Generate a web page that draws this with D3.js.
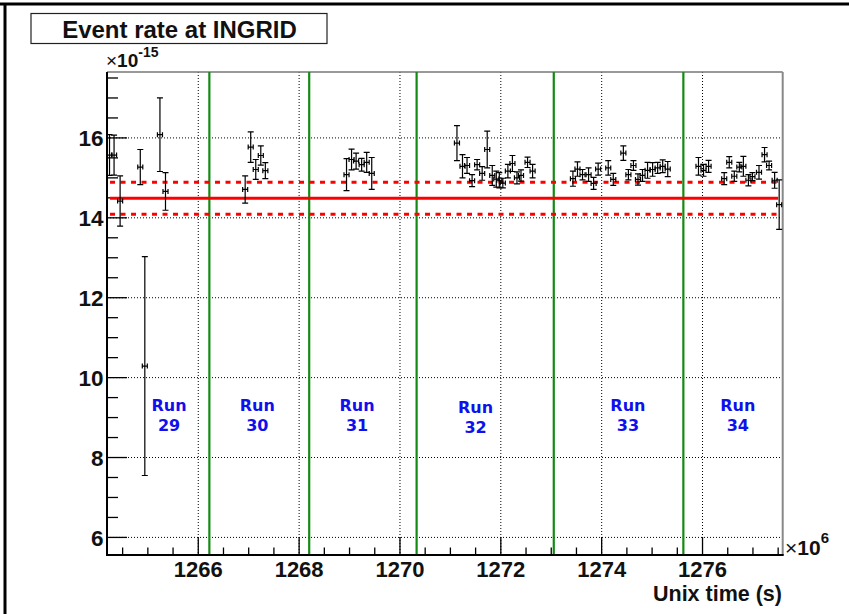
<!DOCTYPE html>
<html>
<head>
<meta charset="utf-8">
<script src="https://cdn.jsdelivr.net/npm/d3@7"></script>
<style>
  html, body { margin: 0; padding: 0; background: #fff; }
  svg { display: block; }
</style>
</head>
<body>
<svg id="chart" width="849" height="614"></svg>
<script>
// ---------------- DATA ----------------
// Unix time (x 10^6 s)
const times = [
  1264.24, 1264.33, 1264.45, 1264.85, 1264.94, 1265.24, 1265.35,
  1266.93, 1267.04, 1267.14, 1267.24, 1267.33,
  1268.94, 1269.04, 1269.13, 1269.24, 1269.34, 1269.44,
  1271.13, 1271.24, 1271.33, 1271.43, 1271.53, 1271.63, 1271.73, 1271.83, 1271.91,
  1271.97, 1272.04, 1272.14, 1272.23, 1272.32, 1272.40, 1272.53, 1272.63,
  1273.43, 1273.52, 1273.62, 1273.74, 1273.84, 1273.93, 1274.13, 1274.23, 1274.43,
  1274.53, 1274.63, 1274.72, 1274.81, 1274.91, 1275.01, 1275.11, 1275.21, 1275.31,
  1275.92, 1276.02, 1276.12, 1276.43, 1276.53, 1276.63, 1276.73, 1276.81, 1276.91,
  1276.99, 1277.12, 1277.23, 1277.32, 1277.43, 1277.52
];
// Event rate (x 10^-15)
const rates = [
  15.57, 15.57, 14.42, 15.27, 10.29, 16.08, 14.66,
  14.71, 15.77, 15.21, 15.56, 15.18,
  15.08, 15.46, 15.42, 15.33, 15.39, 15.11,
  15.87, 15.29, 15.31, 14.93, 15.33, 15.11, 15.71, 15.06, 14.97,
  14.94, 14.87, 15.17, 15.36, 15.00, 15.06, 15.39, 15.17,
  14.98, 15.22, 15.08, 15.08, 14.86, 15.22, 15.25, 14.96, 15.62,
  15.08, 15.31, 14.96, 15.06, 15.19, 15.21, 15.25, 15.29, 15.22,
  15.29, 15.19, 15.29, 14.98, 15.39, 15.04, 15.27, 15.29, 14.94,
  15.03, 15.14, 15.58, 15.31, 14.94, 14.33
];
// Rate errors
const rateErrs = [
  0.51, 0.50, 0.63, 0.44, 2.74, 0.92, 0.47,
  0.34, 0.38, 0.25, 0.24, 0.20,
  0.40, 0.26, 0.20, 0.16, 0.25, 0.40,
  0.44, 0.29, 0.20, 0.15, 0.13, 0.17, 0.46, 0.25, 0.20,
  0.19, 0.12, 0.17, 0.20, 0.15, 0.14, 0.13, 0.17,
  0.19, 0.18, 0.13, 0.17, 0.15, 0.15, 0.18, 0.15, 0.18,
  0.13, 0.12, 0.14, 0.15, 0.20, 0.17, 0.14, 0.16, 0.19,
  0.22, 0.15, 0.15, 0.15, 0.14, 0.13, 0.12, 0.25, 0.14,
  0.10, 0.17, 0.18, 0.11, 0.20, 0.62
];
const timeErr = 0.05;

const meanRate = 14.49;
const meanBand = [14.09, 14.89];
const fitRange = [1264.25, 1277.5];

const runBoundaries = [1266.22, 1268.20, 1270.33, 1273.05, 1275.62];
const runNames = ["29", "30", "31", "32", "33", "34"];
const runLabelX = [1265.42, 1267.17, 1269.15, 1271.50, 1274.52, 1276.70];
const runLabelDy = [0, 0, 0, 2, 0, 0];

const xTicks = [1266, 1268, 1270, 1272, 1274, 1276];
const yTicks = [6, 8, 10, 12, 14, 16];

// ---------------- LAYOUT ----------------
const L = 107, R = 782.7, T = 72, B = 555;
const svg = d3.select("#chart");
const x = d3.scaleLinear().domain([1264.19, 1277.59]).range([L, R]);
const y = d3.scaleLinear().domain([5.56, 17.65]).range([B, T]);

svg.append("rect").attr("width", 849).attr("height", 614).attr("fill", "#fff");

// outer canvas border (top, left)
svg.append("line").attr("x1", 0).attr("x2", 849).attr("y1", 4).attr("y2", 4)
  .attr("stroke", "#000").attr("stroke-width", 3);
svg.append("line").attr("x1", 5).attr("x2", 5).attr("y1", 3).attr("y2", 614)
  .attr("stroke", "#000").attr("stroke-width", 3);

const sans = "'Liberation Sans', Arial, Helvetica, sans-serif";

// grid
const grid = svg.append("g").attr("stroke", "#000").attr("stroke-width", 1)
  .attr("stroke-dasharray", "1,2");
xTicks.forEach(t => {
  grid.append("line").attr("x1", x(t)).attr("x2", x(t)).attr("y1", T).attr("y2", B);
});
yTicks.forEach(t => {
  grid.append("line").attr("x1", L).attr("x2", R).attr("y1", y(t)).attr("y2", y(t));
});

// frame top/right (grey)
svg.append("line").attr("x1", L).attr("x2", R).attr("y1", T).attr("y2", T)
  .attr("stroke", "#777").attr("stroke-width", 1.5);
svg.append("line").attr("x1", R).attr("x2", R).attr("y1", T).attr("y2", B)
  .attr("stroke", "#888").attr("stroke-width", 2);

// ticks
const ticks = svg.append("g").attr("stroke", "#000").attr("stroke-width", 1.3);
const yMinor = d3.range(6, 17.6, 0.5);
yMinor.forEach(v => {
  const major = yTicks.includes(v);
  ticks.append("line").attr("x1", L).attr("x2", L + (major ? 20 : 11))
    .attr("y1", y(v)).attr("y2", y(v));
});
const xMinor = d3.range(1264.5, 1277.6, 0.5);
xMinor.forEach(v => {
  const major = xTicks.includes(v);
  ticks.append("line").attr("x1", x(v)).attr("x2", x(v))
    .attr("y1", B).attr("y2", B - (major ? 18 : 7.5));
});

// run boundaries (green)
runBoundaries.forEach(t => {
  svg.append("line").attr("x1", x(t)).attr("x2", x(t)).attr("y1", T).attr("y2", B)
    .attr("stroke", "#138a13").attr("stroke-width", 2.2);
});

// mean line and band (red)
svg.append("line").attr("x1", x(fitRange[0])).attr("x2", x(fitRange[1]))
  .attr("y1", y(meanRate)).attr("y2", y(meanRate))
  .attr("stroke", "#ff0000").attr("stroke-width", 3.2);
meanBand.forEach(v => {
  svg.append("line").attr("x1", x(fitRange[0])).attr("x2", x(fitRange[1]))
    .attr("y1", y(v)).attr("y2", y(v))
    .attr("stroke", "#ff0000").attr("stroke-width", 3)
    .attr("stroke-dasharray", "5,5.5");
});

// data points with error bars
const pts = svg.append("g").attr("stroke", "#000").attr("stroke-width", 1.2).attr("fill", "none");
times.forEach((t, i) => {
  const cx = x(t), cy = y(rates[i]);
  const y0 = y(rates[i] - rateErrs[i]), y1 = y(rates[i] + rateErrs[i]);
  const x0 = x(t - timeErr), x1 = x(t + timeErr);
  const p = d3.path();
  p.moveTo(cx, y0); p.lineTo(cx, y1);
  p.moveTo(cx - 3, y0); p.lineTo(cx + 3, y0);
  p.moveTo(cx - 3, y1); p.lineTo(cx + 3, y1);
  p.moveTo(x0, cy); p.lineTo(x1, cy);
  p.moveTo(x0, cy - 2.5); p.lineTo(x0, cy + 2.5);
  p.moveTo(x1, cy - 2.5); p.lineTo(x1, cy + 2.5);
  pts.append("path").attr("d", p.toString());
});

// axes lines (black)
svg.append("line").attr("x1", L).attr("x2", R + 1).attr("y1", B).attr("y2", B)
  .attr("stroke", "#000").attr("stroke-width", 2);
svg.append("line").attr("x1", L).attr("x2", L).attr("y1", T).attr("y2", B + 1)
  .attr("stroke", "#000").attr("stroke-width", 2);

// tick labels
xTicks.forEach(t => {
  svg.append("text").attr("x", x(t)).attr("y", 577).attr("text-anchor", "middle")
    .attr("font-family", sans).attr("font-weight", "bold").attr("font-size", 22)
    .attr("fill", "#111").text(t);
});
yTicks.forEach(t => {
  svg.append("text").attr("x", 103.5).attr("y", y(t) + 8.2).attr("text-anchor", "end")
    .attr("font-family", sans).attr("font-weight", "bold").attr("font-size", 22.5)
    .attr("fill", "#111").text(t);
});

// exponent labels
const ey = svg.append("text").attr("x", 106).attr("y", 67)
  .attr("font-family", sans).attr("font-weight", "bold").attr("font-size", 19).attr("fill", "#111");
ey.append("tspan").attr("font-weight", "normal").text("×");
ey.append("tspan").text("10");
ey.append("tspan").attr("font-size", 14).attr("dy", -10).text("-15");

const ex = svg.append("text").attr("x", 785).attr("y", 555)
  .attr("font-family", sans).attr("font-weight", "bold").attr("font-size", 21).attr("fill", "#111");
ex.append("tspan").attr("font-weight", "normal").text("×");
ex.append("tspan").text("10");
ex.append("tspan").attr("font-size", 15).attr("dy", -12).text("6");

// x axis title
svg.append("text").attr("x", 782).attr("y", 601).attr("text-anchor", "end")
  .attr("font-family", sans).attr("font-weight", "bold").attr("font-size", 21.5)
  .attr("fill", "#111").text("Unix time (s)");

// title box
svg.append("rect").attr("x", 31).attr("y", 13.5).attr("width", 296).attr("height", 30)
  .attr("fill", "#fff").attr("stroke", "#222").attr("stroke-width", 1.2);
svg.append("text").attr("x", 179.5).attr("y", 37.5).attr("text-anchor", "middle")
  .attr("font-family", sans).attr("font-weight", "bold").attr("font-size", 24)
  .attr("fill", "#111").text("Event rate at INGRID");

// run labels
runNames.forEach((n, i) => {
  const t = svg.append("text").attr("text-anchor", "middle")
    .attr("font-family", "'DejaVu Sans', sans-serif").attr("font-weight", "bold")
    .attr("font-size", 16).attr("fill", "#1010ee");
  t.append("tspan").attr("x", x(runLabelX[i])).attr("y", 410.5 + runLabelDy[i]).text("Run");
  t.append("tspan").attr("x", x(runLabelX[i])).attr("y", 431 + runLabelDy[i]).text(n);
});
</script>
</body>
</html>
